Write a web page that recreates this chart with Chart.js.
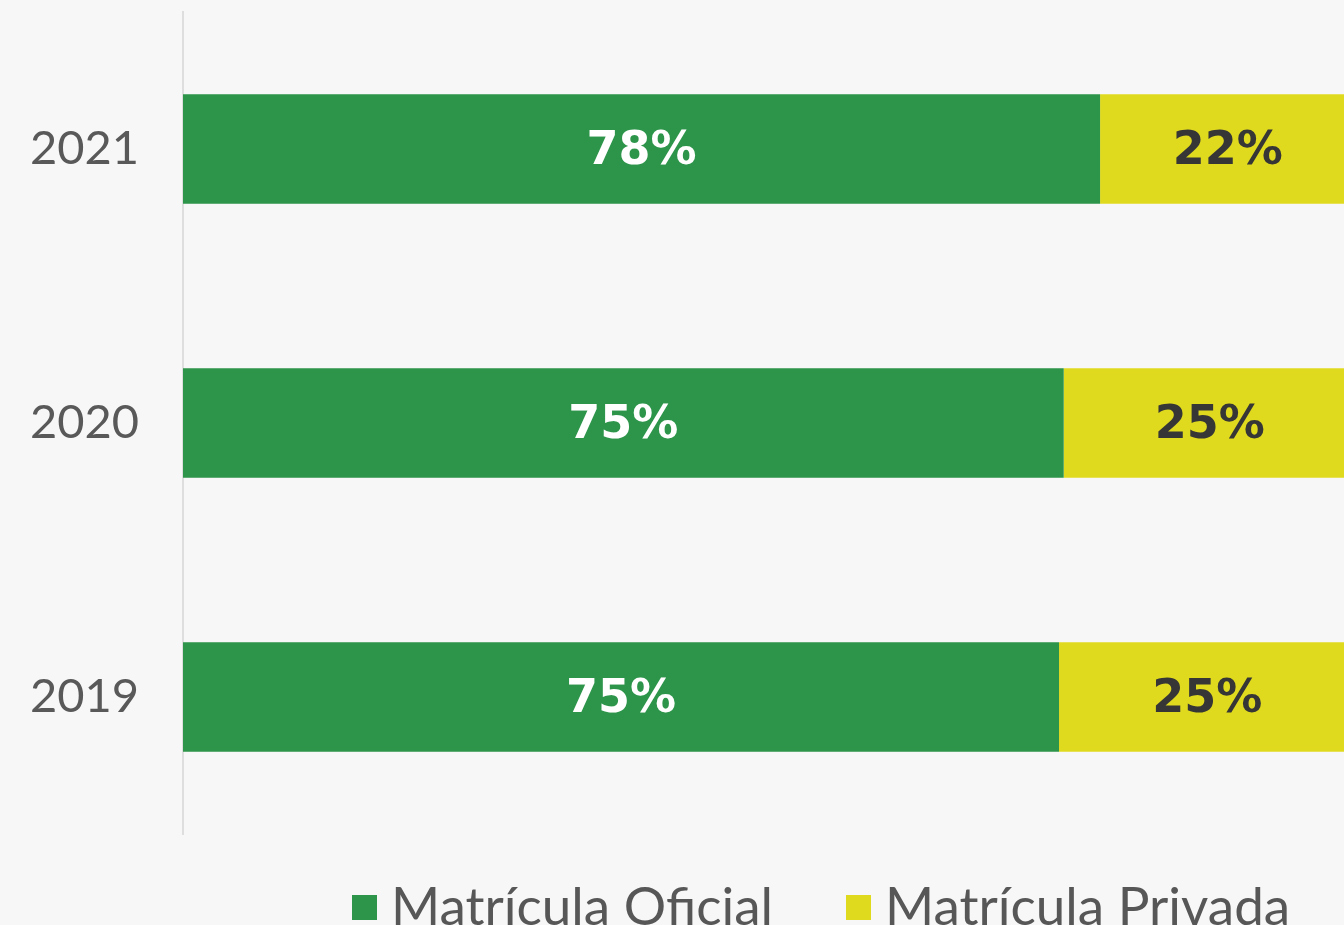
<!DOCTYPE html>
<html>
<head>
<meta charset="utf-8">
<script src="https://cdn.jsdelivr.net/npm/chart.js@4.4.0/dist/chart.umd.min.js"></script>
<style>
  body { margin: 0; background: #f7f7f7; }
  #wrap { width: 1344px; height: 925px; position: relative; }
</style>
</head>
<body>
<div id="wrap"><canvas id="myChart"></canvas></div>
<script>
// datos (porcentaje de matrícula por año)
const years = ['2021', '2020', '2019'];
const oficial = [78.2, 75.1, 74.7];
const privada = [21.8, 24.9, 25.3];
const seriesNames = ['Matrícula Oficial', 'Matrícula Privada'];

const GREEN = '#2c954a';
const YELLOW = '#e0da1f';

// etiquetas dentro de las barras
const barLabels = {
  id: 'barLabels',
  afterDatasetsDraw(chart) {
    const ctx = chart.ctx;
    ctx.save();
    ctx.font = 'bold 46px "DejaVu Sans"';
    ctx.textAlign = 'center';
    ctx.textBaseline = 'middle';
    chart.data.datasets.forEach((ds, i) => {
      chart.getDatasetMeta(i).data.forEach((bar, j) => {
        const p = bar.getCenterPoint();
        ctx.fillStyle = i === 0 ? '#ffffff' : '#363636';
        ctx.fillText(Math.round(ds.data[j]) + '%', p.x, p.y + 3);
      });
    });
    ctx.restore();
  }
};

// leyenda abajo
const bottomLegend = {
  id: 'bottomLegend',
  afterDraw(chart) {
    const ctx = chart.ctx;
    const xs = [352, 846];
    ctx.save();
    ctx.font = '53px Lato';
    ctx.textBaseline = 'alphabetic';
    chart.data.datasets.forEach((ds, i) => {
      ctx.fillStyle = ds.backgroundColor;
      ctx.fillRect(xs[i], 895, 25, 25);
      ctx.fillStyle = '#575757';
      ctx.fillText(ds.label, xs[i] + 39, 925);
    });
    ctx.restore();
  }
};

const ctx = document.getElementById('myChart');
new Chart(ctx, {
  type: 'bar',
  data: {
    labels: years,
    datasets: [
      { label: seriesNames[0], data: oficial, backgroundColor: GREEN },
      { label: seriesNames[1], data: privada, backgroundColor: YELLOW }
    ]
  },
  options: {
    indexAxis: 'y',
    responsive: true,
    maintainAspectRatio: false,
    animation: false,
    layout: { padding: { top: 12, bottom: 91, right: 0, left: 0 } },
    datasets: { bar: { barPercentage: 0.4, categoryPercentage: 1 } },
    plugins: { legend: { display: false }, tooltip: { enabled: false } },
    scales: {
      // la barra se corta en el borde derecho, como en el original
      x: { stacked: true, min: 0, max: 99, display: false },
      y: {
        stacked: true,
        grid: { display: false, drawTicks: false },
        border: { display: true, color: '#dedede', width: 2 },
        ticks: { color: '#595959', font: { family: 'Lato', size: 47 }, padding: 44 },
        afterFit(scale) {
          scale.width = 183;
          scale.paddingTop = 0;
          scale.paddingBottom = 0;
        }
      }
    }
  },
  plugins: [barLabels, bottomLegend]
});
</script>
</body>
</html>
